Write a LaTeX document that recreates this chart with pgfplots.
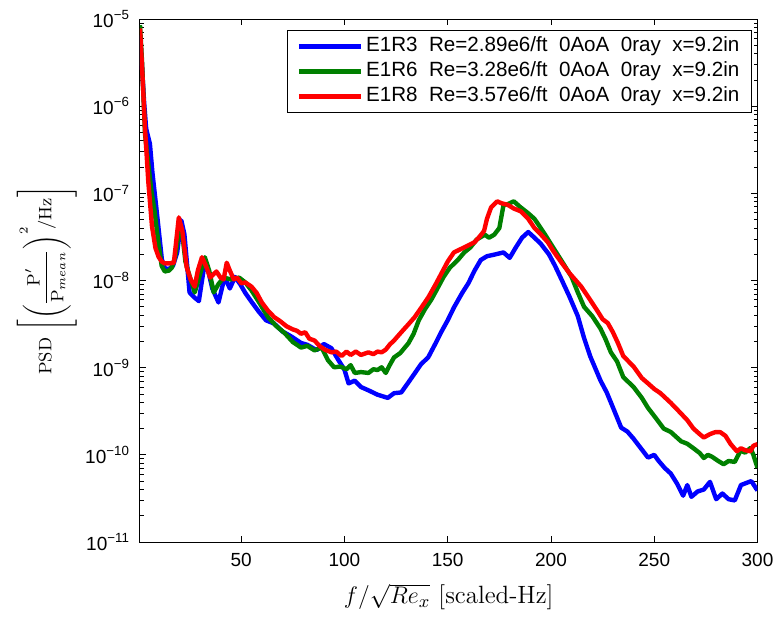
\documentclass[border=0pt]{standalone}
\usepackage{pgfplots}
\pgfplotsset{compat=1.18}
\usepackage{pgfplotstable}
\usepackage{fontspec}
\newfontfamily\arial{Liberation Sans}
\definecolor{mblue}{rgb}{0,0,1}
\definecolor{mgreen}{rgb}{0,0.5,0}
\definecolor{mred}{rgb}{1,0,0}

\pgfplotstableread{
x y
1 6.5e-6
2 2.8e-6
3 1.1e-6
4 5.5e-7
5.8 3.7e-7
7 1.75e-7
9.2 5.9e-8
11.6 1.74e-8
13 1.38e-8
15 1.35e-8
17 1.48e-8
19 2.1e-8
21 4.9e-8
22.5 3.4e-8
25 7.3e-9
27 6.5e-9
29.5 5.8e-9
32 1.42e-8
34 1.3e-8
36 8.1e-9
39 5.6e-9
42 1.1e-8
44.5 8.1e-9
47 1.1e-8
49.5 9.1e-9
52 7.2e-9
55 5.7e-9
58.5 4.4e-9
62 3.5e-9
66 3.2e-9
70 2.6e-9
74 2.3e-9
79 1.92e-9
82 1.83e-9
86.5 1.59e-9
90 1.87e-9
93.7 1.67e-9
97 1.23e-9
100 9.5e-10
102 6.6e-10
105 7.1e-10
108 6.0e-10
111.6 5.5e-10
116 4.9e-10
121 4.5e-10
124 5.1e-10
127.5 5.2e-10
131 6.8e-10
134 8.6e-10
137 1.09e-9
140.6 1.32e-9
144 1.88e-9
147 2.6e-9
150 3.5e-9
153 4.9e-9
157 7.2e-9
160 9.3e-9
163 1.3e-8
166 1.72e-8
169 1.9e-8
172.5 1.98e-8
177 2.1e-8
180 1.82e-8
183 2.4e-8
186 3.1e-8
189 3.6e-8
192 3.1e-8
195 2.65e-8
199 2.0e-8
202 1.47e-8
205 1.04e-8
209 6.5e-9
213 3.9e-9
216 2.2e-9
219 1.35e-9
224 7.1e-10
227 5.2e-10
230 3.5e-10
234 2.05e-10
237 1.85e-10
240 1.53e-10
244 1.15e-10
247 9.3e-11
250 1.0e-10
252 8.6e-11
255 7.1e-11
258 6.1e-11
261 4.7e-11
264 3.4e-11
266 4.5e-11
268 3.3e-11
271 3.8e-11
274 4.0e-11
277 4.9e-11
280 3.1e-11
283 3.6e-11
286 3.1e-11
289 3.0e-11
292 4.5e-11
294 4.7e-11
297 5.0e-11
300 3.9e-11
}\dataA

\pgfplotstableread{
x y
1 8.5e-6
2 3.2e-6
3.4 4.9e-7
5 2.2e-7
6.5 1.08e-7
8 6.4e-8
10 2.6e-8
11.5 1.47e-8
13 1.27e-8
15 1.3e-8
16.4 1.4e-8
18 1.86e-8
20 3.8e-8
21.5 3.4e-8
23 1.65e-8
24.6 1.21e-8
27.5 7.3e-9
30 1.16e-8
32.4 1.85e-8
34.5 1.3e-8
36.7 7.3e-9
39 9.1e-9
41.5 1.08e-8
45 1.03e-8
49 1.08e-8
52 9.5e-9
55 7.7e-9
58.5 5.7e-9
63 3.8e-9
67 3.0e-9
71 2.5e-9
75 1.97e-9
79 1.7e-9
82 1.78e-9
85.5 1.58e-9
89 1.7e-9
92 1.22e-9
95 1.01e-9
98 1.03e-9
101 9.6e-10
103 1.07e-9
105 8.7e-10
108 8.9e-10
111.6 8.7e-10
114 9.6e-10
116 9.4e-10
118 1.01e-9
120 8.7e-10
122 1.08e-9
124 1.31e-9
127 1.47e-9
131 1.91e-9
133.5 2.45e-9
136 3.5e-9
139 4.7e-9
142 6.0e-9
145 8.1e-9
148 1.1e-8
151 1.4e-8
155 1.73e-8
158 2.1e-8
161 2.4e-8
164 2.95e-8
166 3.15e-8
168 3.35e-8
170 3.1e-8
172.5 3.35e-8
175 4.0e-8
177 7.3e-8
179.5 7.6e-8
182 8.1e-8
185 7.0e-8
189 5.9e-8
192 5.1e-8
194 4.35e-8
197 3.4e-8
201 2.4e-8
205 1.7e-8
210 1.1e-8
213 7.3e-9
216 5.0e-9
220 3.9e-9
224 2.8e-9
226.5 2.1e-9
229 1.5e-9
232 1.18e-9
235 7.8e-10
240 6.0e-10
244 4.5e-10
247 3.45e-10
251 2.6e-10
254.6 2.0e-10
258 1.83e-10
263 1.43e-10
266 1.34e-10
269 1.19e-10
272 1.05e-10
274 9.2e-11
276 1.0e-10
278 9.5e-11
281 8.5e-11
283.6 7.8e-11
286 8.5e-11
289 8.3e-11
291.8 1.12e-10
294 1.06e-10
296.6 1.2e-10
298 1.0e-10
300 7.1e-11
}\dataB

\pgfplotstableread{
x y
1 7.8e-6
2 2.8e-6
3.4 5.7e-7
5 1.38e-7
6.8 4.2e-8
8.5 2.35e-8
10 1.87e-8
11.5 1.65e-8
13 1.57e-8
15 1.57e-8
17.4 1.6e-8
19.8 5.3e-8
21.5 3.7e-8
23.6 1.42e-8
25.5 1.03e-8
27.5 8.5e-9
29 1.3e-8
31 1.85e-8
33 1.46e-8
35 1.08e-8
38 1.27e-8
40 1.08e-8
41.5 1.03e-8
43 1.6e-8
44.5 1.3e-8
46.4 1.03e-8
48 1.08e-8
50 9.3e-9
52 9.5e-9
55 8.5e-9
57.5 7.2e-9
60 5.6e-9
63 4.5e-9
66 3.8e-9
69 3.4e-9
72 2.98e-9
75 2.75e-9
77 2.65e-9
79 2.45e-9
81 2.55e-9
83 2.15e-9
85.5 2.05e-9
88 1.77e-9
90.5 1.61e-9
93.7 1.5e-9
96 1.53e-9
98.6 1.36e-9
101 1.53e-9
103 1.4e-9
105.5 1.53e-9
108 1.4e-9
111.6 1.5e-9
114 1.43e-9
116 1.53e-9
118 1.5e-9
120 1.61e-9
122 1.85e-9
124 2.05e-9
127.5 2.55e-9
131 3.15e-9
134 3.8e-9
137 4.8e-9
140.6 6.4e-9
144 8.9e-9
147 1.21e-8
150 1.65e-8
153 2.1e-8
158 2.4e-8
163 2.75e-8
165.5 3.2e-8
167.6 3.7e-8
169 5.1e-8
171 6.9e-8
174 8.1e-8
176 7.7e-8
179 7.4e-8
182 6.7e-8
185.5 6.2e-8
189 5.1e-8
192 4.0e-8
195 3.4e-8
198.5 2.75e-8
201 2.2e-8
205 1.62e-8
209 1.21e-8
214.5 8.6e-9
218 6.5e-9
222.7 4.4e-9
225 3.6e-9
227.5 3.25e-9
230 2.55e-9
232.5 1.9e-9
235 1.36e-9
240 1.03e-9
244 7.6e-10
247 6.6e-10
250 5.7e-10
253 5.1e-10
258 3.95e-10
262 3.15e-10
266 2.5e-10
269 2.0e-10
272 1.73e-10
274 1.58e-10
277 1.73e-10
279.5 1.82e-10
282 1.82e-10
284.5 1.65e-10
287 1.33e-10
290 1.1e-10
292 1.19e-10
294 1.13e-10
296.6 1.1e-10
298 1.27e-10
300 1.33e-10
}\dataC

\begin{document}
\begin{tikzpicture}
\useasboundingbox (-70pt,-37.5pt) rectangle (319pt,271pt);
\begin{axis}[
  scale only axis,
  width=308.75pt, height=261.5pt,
  at={(0,0)}, anchor=south west,
  ymode=log,
  xmin=1, xmax=300, ymin=1e-11, ymax=1e-5,
  xtick={50,100,150,200,250,300},
  xticklabels={50,100,150,200,250,300},
  ytick={1e-11,1e-10,1e-9,1e-8,1e-7,1e-6,1e-5},
  yticklabels={10\textsuperscript{−11},10\textsuperscript{−10},10\textsuperscript{−9},10\textsuperscript{−8},10\textsuperscript{−7},10\textsuperscript{−6},10\textsuperscript{−5}},
  minor ytick={2e-11,3e-11,4e-11,5e-11,6e-11,7e-11,8e-11,9e-11,
    2e-10,3e-10,4e-10,5e-10,6e-10,7e-10,8e-10,9e-10,
    2e-9,3e-9,4e-9,5e-9,6e-9,7e-9,8e-9,9e-9,
    2e-8,3e-8,4e-8,5e-8,6e-8,7e-8,8e-8,9e-8,
    2e-7,3e-7,4e-7,5e-7,6e-7,7e-7,8e-7,9e-7,
    2e-6,3e-6,4e-6,5e-6,6e-6,7e-6,8e-6,9e-6},
  tick align=inside,
  major tick length=3pt, minor tick length=1.8pt,
  every tick/.style={black, line width=0.4pt},
  axis line style={line width=0.5pt},
  tick label style={font=\arial\fontsize{9.5}{11}\selectfont},
  xticklabel style={yshift=-2pt},
  yticklabel style={xshift=-1.5pt},
  every axis x label/.style={at={(rel axis cs:0.5,-0.105)}, anchor=center},
  every axis y label/.style={at={(rel axis cs:-0.151,0.5)}, anchor=center, rotate=90},
  xlabel style={font=\fontsize{12.5}{15}\selectfont},
  ylabel style={font=\fontsize{9}{11}\selectfont},
  xlabel={$f/\sqrt{Re_x}$ [scaled-Hz]},
  ylabel={PSD $\left[\left(\displaystyle\frac{\mathrm{P}'}{\mathrm{P}_{mean}}\right)^{2}\!\!/\mathrm{Hz}\right]$},
  legend cell align=left,
  legend style={at={(rel axis cs:0.991,0.979)}, anchor=north east,
    draw=black, line width=0.5pt,
    font=\arial\fontsize{10.3}{12}\selectfont,
    inner xsep=4.5pt, inner ysep=3pt, row sep=2.5pt, column sep=0pt,
    nodes={inner xsep=1.5pt, inner ysep=0pt, text height=7.5pt, text depth=2.5pt}},
  legend image code/.code={\draw[#1, line width=2.2pt] (0pt,0pt) -- (31pt,0pt);},
  clip=true,
]
\addplot[mblue, line width=2.2pt, line join=round] table {\dataA};
\addlegendentry{E1R3\ \ Re=2.89e6/ft\ \ 0AoA\ \ 0ray\ \ x=9.2in}
\addplot[mgreen, line width=2.2pt, line join=round] table {\dataB};
\addlegendentry{E1R6\ \ Re=3.28e6/ft\ \ 0AoA\ \ 0ray\ \ x=9.2in}
\addplot[mred, line width=2.2pt, line join=round] table {\dataC};
\addlegendentry{E1R8\ \ Re=3.57e6/ft\ \ 0AoA\ \ 0ray\ \ x=9.2in}
\end{axis}
\end{tikzpicture}
\end{document}
